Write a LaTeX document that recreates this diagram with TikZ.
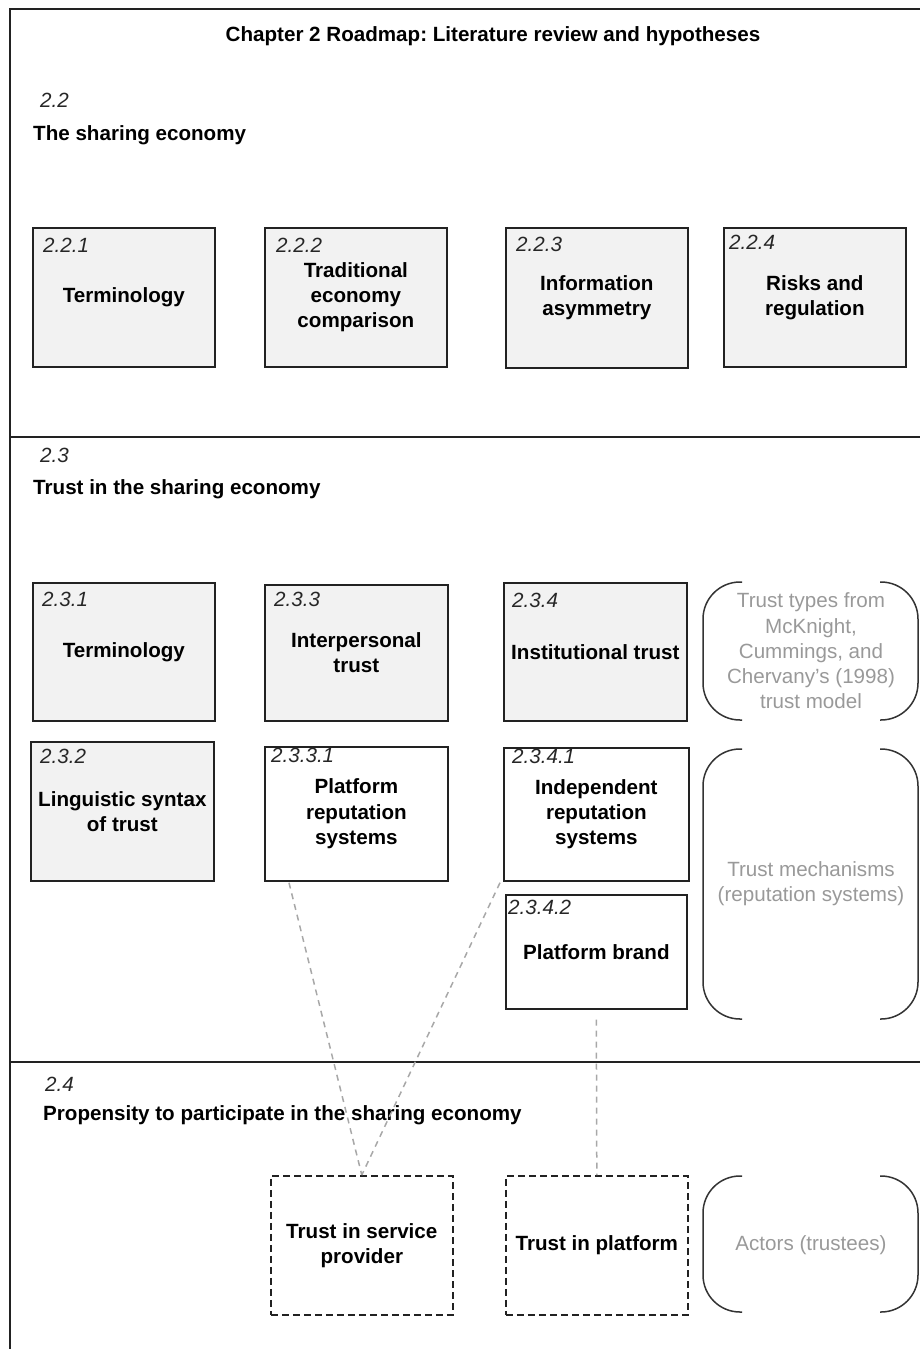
\documentclass[tikz,border=0pt]{standalone}
\usepackage{fontspec}
\setmainfont{Liberation Sans}
\usetikzlibrary{calc}
\frenchspacing
\definecolor{boxfill}{HTML}{F2F2F2}
\definecolor{linecol}{HTML}{222222}
\definecolor{graytext}{HTML}{999999}
\definecolor{conncol}{HTML}{A8A8A8}
\definecolor{brkcol}{HTML}{333333}
\newcommand\dfs{\fontsize{20.6}{25.2}\selectfont}
\tikzset{
  framel/.style={draw=linecol, line width=1.6pt},
  secbox/.style={draw=linecol, line width=1.7pt, fill=boxfill, anchor=north west,
    align=center, inner sep=0pt, font=\bfseries\dfs, text=black},
  subbox/.style={secbox, fill=white},
  actorbox/.style={secbox, fill=white, line width=1.6pt, dash pattern=on 7pt off 4pt},
  numlbl/.style={anchor=north west, inner sep=0pt, font=\itshape\dfs, text=black!85},
  seclbl/.style={anchor=base west, inner sep=0pt, font=\itshape\dfs, text=black!85},
  sectitle/.style={anchor=base west, inner sep=0pt, font=\bfseries\dfs},
  brk/.style={draw=brkcol, line width=1.5pt, rounded corners=37pt},
  brktext/.style={align=center, inner sep=0pt, font=\dfs, text=graytext},
  conn/.style={draw=conncol, line width=1.5pt, dash pattern=on 6pt off 5pt},
  sz/.style n args={2}{minimum width=#1pt, minimum height=#2pt}
}
\begin{document}
\begin{tikzpicture}[x=1pt, y=-1pt]
\useasboundingbox (0,0) rectangle (920,1349);

% frame and dividers
\draw[framel] (921,9) -| (10,1350);
\draw[framel] (10,437) -- (921,437);
\draw[framel] (10,1062) -- (921,1062);

% title
\node[anchor=base, inner sep=0pt, font=\bfseries\dfs] (title) at (493,41)
  {Chapter 2 Roadmap: Literature review and hypotheses};

% section 2.2
\node[seclbl] (s22n) at (40,107) {2.2};
\node[sectitle] (s22t) at (33,140) {The sharing economy};

\node[secbox, sz={182}{139}] (b221) at (32,227) {Terminology};
\node[secbox, sz={182}{139}] (b222) at (264,227) {Traditional\\economy\\comparison};
\node[secbox, sz={182}{140}] (b223) at (505,227) {Information\\asymmetry};
\node[secbox, sz={182}{139}] (b224) at (723,227) {Risks and\\regulation};
\node[numlbl] (n221) at ($(b221.north west)+(11,11)$) {2.2.1};
\node[numlbl] (n222) at ($(b222.north west)+(12,11)$) {2.2.2};
\node[numlbl] (n223) at ($(b223.north west)+(11,10)$) {2.2.3};
\node[numlbl] (n224) at ($(b224.north west)+(6,8)$) {2.2.4};

% section 2.3
\node[seclbl] (s23n) at (40,462) {2.3};
\node[sectitle] (s23t) at (33,494) {Trust in the sharing economy};

\node[secbox, sz={182}{138}] (b231) at (32,582) {Terminology};
\node[secbox, sz={183}{136}] (b233) at (264,584) {Interpersonal\\trust};
\node[secbox, sz={183}{138}] (b234) at (503,582) {Institutional trust};
\node[secbox, sz={183}{139}] (b232) at (30,741) {Linguistic syntax\\of trust};
\node[subbox, sz={183}{134}] (b2331) at (264,746) {Platform\\reputation\\systems};
\node[subbox, sz={185}{133}] (b2341) at (503,747) {Independent\\reputation\\systems};
\node[subbox, sz={181}{114}] (b2342) at (505,894) {Platform brand};
\node[numlbl] (n231) at ($(b231.north west)+(10,10)$) {2.3.1};
\node[numlbl] (n233) at ($(b233.north west)+(10,8)$) {2.3.3};
\node[numlbl] (n234) at ($(b234.north west)+(9,11)$) {2.3.4};
\node[numlbl] (n232) at ($(b232.north west)+(10,8)$) {2.3.2};
\node[numlbl] (n2331) at ($(b2331.north west)+(7,2)$) {2.3.3.1};
\node[numlbl] (n2341) at ($(b2341.north west)+(9,2)$) {2.3.4.1};
\node[numlbl] (n2342) at ($(b2342.north west)+(3,6)$) {2.3.4.2};

% brackets
\draw[brk] (742,582) -- (703,582) -- (703,720) -- (742,720);
\draw[brk] (880,582) -- (918,582) -- (918,720) -- (880,720);
\node[brktext] (brk1) at (811,651)
  {Trust types from\\McKnight,\\Cummings, and\\Chervany’s (1998)\\trust model};

\draw[brk] (742,749) -- (703,749) -- (703,1019) -- (742,1019);
\draw[brk] (880,749) -- (918,749) -- (918,1019) -- (880,1019);
\node[brktext] (brk2) at (811,884) {Trust mechanisms\\(reputation systems)};

% section 2.4
\node[seclbl] (s24n) at (45,1091) {2.4};
\node[sectitle] (s24t) at (43,1120) {Propensity to participate in the sharing economy};

\node[actorbox, sz={182}{139}] (tsp) at (270,1175) {Trust in service\\provider};
\node[actorbox, sz={182}{139}] (tpl) at (505,1175) {Trust in platform};

\draw[brk] (742,1176) -- (703,1176) -- (703,1312) -- (742,1312);
\draw[brk] (880,1176) -- (918,1176) -- (918,1312) -- (880,1312);
\node[brktext] (brk3) at (811,1245) {Actors (trustees)};

% connectors
\coordinate (c1) at ($(b2331.south west)+(25,1)$);
\coordinate (c2) at ($(b2341.south west)+(-3,1)$);
\coordinate (c3) at ($(b2342.south)+(0,10)$);
\draw[conn] (c1) -- (tsp.north);
\draw[conn] (c2) -- (tsp.north);
\draw[conn] (c3) -- (tpl.north);
\end{tikzpicture}
\end{document}
